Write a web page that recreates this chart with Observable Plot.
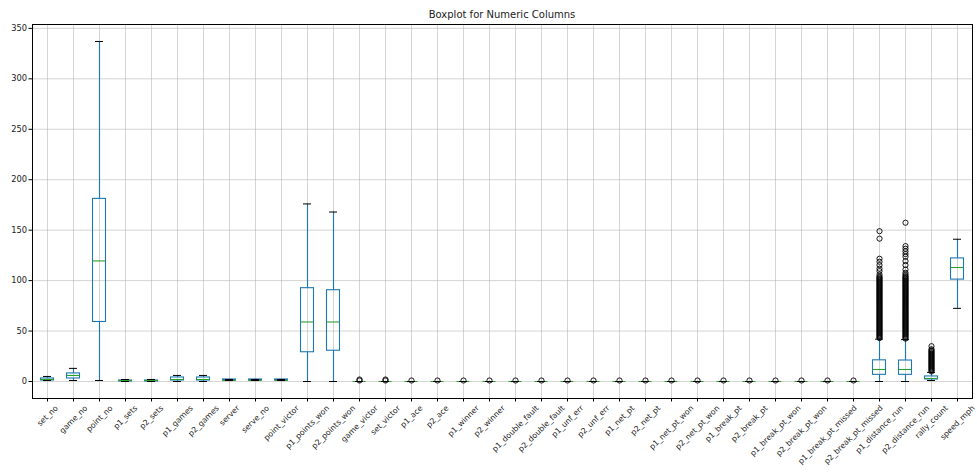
<!DOCTYPE html>
<html>
<head>
<meta charset="utf-8">
<script src="https://cdn.jsdelivr.net/npm/d3@7"></script>
<script src="https://cdn.jsdelivr.net/npm/@observablehq/plot@0.6"></script>
<style>
  html, body { margin: 0; padding: 0; background: #fff; }
  #title { width: 977px; box-sizing: border-box; padding-left: 32px; padding-right: 5px; height: 20px; padding-top: 10px;
           text-align: center; font-family: "DejaVu Sans", sans-serif; font-size: 10px; line-height: 10px; color: #222; }
  #chart svg { display: block; }
  #chart svg text { font-family: "DejaVu Sans", sans-serif; }
</style>
</head>
<body>
<div id="title">Boxplot for Numeric Columns</div>
<div id="chart"></div>
<script>
const columns = ["set_no","game_no","point_no","p1_sets","p2_sets","p1_games","p2_games","server","serve_no","point_victor",
  "p1_points_won","p2_points_won","game_victor","set_victor","p1_ace","p2_ace","p1_winner","p2_winner",
  "p1_double_fault","p2_double_fault","p1_unf_err","p2_unf_err","p1_net_pt","p2_net_pt","p1_net_pt_won","p2_net_pt_won",
  "p1_break_pt","p2_break_pt","p1_break_pt_won","p2_break_pt_won","p1_break_pt_missed","p2_break_pt_missed",
  "p1_distance_run","p2_distance_run","rally_count","speed_mph"];

const q1 =        [1, 3, 59, 0, 0, 1, 1, 1, 1, 1, 29, 30.5, 0,0,0,0,0,0,0,0,0,0,0,0,0,0,0,0,0,0,0,0, 6.6, 6.6, 2, 101];
const median =    [2, 6, 119.5, 1, 1, 2, 2, 1, 1, 1, 59, 59, 0,0,0,0,0,0,0,0,0,0,0,0,0,0,0,0,0,0,0,0, 11.9, 11.9, 3, 113];
const q3 =        [3, 8, 181, 1, 1, 4, 4, 2, 2, 2, 92.5, 90.5, 0,0,0,0,0,0,0,0,0,0,0,0,0,0,0,0,0,0,0,0, 21, 20.8, 5, 122];
const whiskerLo = [1, 1, 1, 0, 0, 0, 0, 1, 1, 1, 0, 0, 0,0,0,0,0,0,0,0,0,0,0,0,0,0,0,0,0,0,0,0, 0, 0, 1, 72.5];
const whiskerHi = [5, 13, 337, 2, 2, 6, 6, 2, 2, 2, 176, 168, 0,0,0,0,0,0,0,0,0,0,0,0,0,0,0,0,0,0,0,0, 42, 41.5, 9, 141];

const p1DistanceOutliers = [43,44,45,46,47,48,49,50,51,52,53,54,55,56,57,58,59,60,61,62,63,64,65,66,67,68,69,70,71,72,
  73,74,75,76,77,78,79,80,81,82,83,84,85,86,87,88,89,90,91,92,93,94,95,96,97,98,99,100,101,102,103,104,
  106,109.4,111.8,115.4,118.7,121.7,141.6,149];
const p2DistanceOutliers = [42.5,43.5,44.5,45.5,46.5,47.5,48.5,49.5,50.5,51.5,52.5,53.5,54.5,55.5,56.5,57.5,58.5,59.5,60.5,
  61.5,62.5,63.5,64.5,65.5,66.5,67.5,68.5,69.5,70.5,71.5,72.5,73.5,74.5,75.5,76.5,77.5,78.5,79.5,80.5,81.5,82.5,83.5,84.5,
  85.5,86.5,87.5,88.5,89.5,90.5,91.5,92.5,93.5,94.5,95.5,96.5,97.5,98.5,99.5,100.5,101.5,102.5,103.5,104.5,106,
  107.8,111,115.4,119.3,123.7,126.3,129,131.6,134.2,157.4];
const rallyOutliers = [10,11,12,13,14,15,16,17,18,19,20,21,22,23,24,25,26,27,28,29,30,31,32,35];

const outliers = [[],[],[],[],[],[],[],[],[],[],[],[],
  [1,2],[1,2],[1],[1],[1],[1],[1],[1],[1],[1],[1],[1],[1],[1],[1],[1],[1],[1],[1],[1],
  p1DistanceOutliers, p2DistanceOutliers, rallyOutliers, []];

const yTicks = [0, 50, 100, 150, 200, 250, 300, 350];

const boxes = columns.map((c, i) => ({col: c, q1: q1[i], med: median[i], q3: q3[i], lo: whiskerLo[i], hi: whiskerHi[i]}));
const fliers = columns.flatMap((c, i) => outliers[i].map(v => ({col: c, v})));

const blue = "#1f77b4", green = "#2ca02c";
const H = 452, MT = 4, MB = 74;
const xFont = 7.8;

const plot = Plot.plot({
  width: 977, height: H,
  marginTop: MT, marginBottom: MB, marginLeft: 32, marginRight: 5,
  style: {fontFamily: "'DejaVu Sans', sans-serif", fontSize: "8px", background: "white", color: "#222", overflow: "visible"},
  x: {type: "band", domain: columns, padding: 0, label: null},
  y: {domain: [-16.85, 353.85], label: null},
  marks: [
    Plot.gridX(columns, {stroke: "#b0b0b0", strokeOpacity: 0.6, strokeWidth: 0.9}),
    Plot.gridY(yTicks, {stroke: "#b0b0b0", strokeOpacity: 0.6, strokeWidth: 0.9}),
    Plot.ruleX(boxes, {x: "col", y1: "lo", y2: "q1", stroke: blue, strokeOpacity: 1, strokeWidth: 1.15}),
    Plot.ruleX(boxes, {x: "col", y1: "q3", y2: "hi", stroke: blue, strokeOpacity: 1, strokeWidth: 1.15}),
    Plot.barY(boxes, {x: "col", y1: "q1", y2: "q3", fill: "none", stroke: blue, strokeWidth: 1.1, insetLeft: 6.5, insetRight: 6.5}),
    Plot.tickY(boxes, {x: "col", y: "med", stroke: green, strokeWidth: 1.1, insetLeft: 6.5, insetRight: 6.5}),
    Plot.tickY(boxes, {x: "col", y: "lo", stroke: "#000", strokeWidth: 1, insetLeft: 9, insetRight: 9}),
    Plot.tickY(boxes, {x: "col", y: "hi", stroke: "#000", strokeWidth: 1, insetLeft: 9, insetRight: 9}),
    Plot.dot(fliers, {x: "col", y: "v", r: 2.6, stroke: "#000", strokeWidth: 0.9, fill: "none"}),
    Plot.frame({stroke: "#000", strokeWidth: 1}),
    Plot.axisY(yTicks, {tickSize: 3.5, tickPadding: 2, label: null, stroke: "#000", fill: "#222", fontSize: 8.3}),
    Plot.axisX({tickSize: 3.5, tickPadding: 2, tickRotate: -45, label: null, stroke: "#000", fill: "#222", fontSize: xFont})
  ]
});
document.getElementById("chart").appendChild(plot);

// Matplotlib-style centred rotated tick labels (centre of rotated box under the tick)
d3.select(plot).selectAll('g[aria-label="x-axis tick label"] text').each(function() {
  const t = this.getAttribute("transform") || "";
  const m = t.match(/translate\(\s*([-\d.e]+)[ ,]+([-\d.e]+)\s*\)/);
  if (!m) return;
  const x0 = +m[1], y0 = +m[2];
  const L = this.getComputedTextLength();
  const cy = y0 + (L + xFont) * Math.SQRT1_2 / 2;
  d3.select(this)
    .attr("transform", `translate(${x0},${cy}) rotate(-45)`)
    .attr("text-anchor", "middle")
    .attr("x", 0).attr("y", 0)
    .attr("dy", "0.32em");
});
</script>
</body>
</html>
